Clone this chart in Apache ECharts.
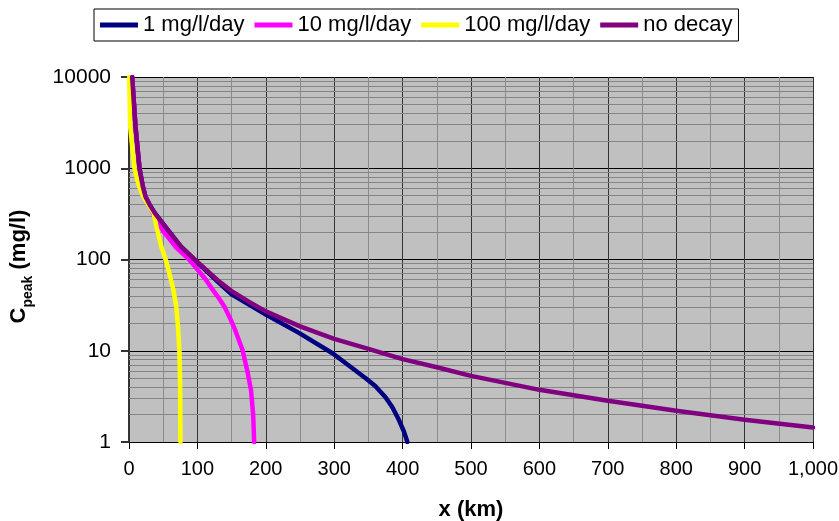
<!DOCTYPE html>
<html>
<head>
<meta charset="utf-8">
<script src="https://cdn.jsdelivr.net/npm/echarts@6/dist/echarts.min.js"></script>
<style>
  html, body { margin: 0; padding: 0; background: #fff; }
  #chart { width: 839px; height: 521px; }
</style>
</head>
<body>
<div id="chart"></div>
<script>
const FONT = '"Liberation Sans", Arial, sans-serif'

const seriesNames = ['1 mg/l/day', '10 mg/l/day', '100 mg/l/day', 'no decay']
const seriesColors = ['#000080', '#ff00ff', '#ffff00', '#800080']

// x (km) / Cpeak (mg/l)
const decay1X = [4.6, 9.5, 15.3, 20, 24, 30, 38, 57, 76, 96, 130, 150, 200, 249, 297.5, 346, 360, 375, 385, 394.5, 402, 407]
const decay1Y = [10000, 2840, 1000, 640, 490, 400, 320, 210, 138, 99, 57, 41.5, 25, 15.6, 9.4, 5.0, 4.1, 3.1, 2.4, 1.75, 1.3, 1]

const decay10X = [4.6, 9.5, 15.3, 20, 24, 30, 35, 49, 68, 88, 112.7, 122, 130, 139.4, 148, 155, 166, 173, 178.4, 181.5, 183]
const decay10Y = [10000, 2840, 1000, 640, 490, 390, 320, 210, 138, 100, 59.7, 47, 39, 30.5, 22.5, 17, 10.2, 6, 3.7, 2, 1]

const decay100X = [0.3, 1.7, 8, 13, 19, 24, 29, 36, 41, 47, 54, 60, 65, 69, 71.5, 73.7, 74.7, 75.2]
const decay100Y = [10000, 2840, 1000, 700, 520, 450, 390, 320, 215, 140, 98, 66, 46, 31, 19, 10, 4.5, 1]

const noDecayX = [4.6, 9.5, 15.3, 20, 24, 30, 38, 57, 76, 96, 130, 150, 175, 200, 250, 300, 350, 400, 450, 500, 600, 700, 800, 900, 1000]
const noDecayY = [10000, 2840, 1000, 640, 490, 400, 320, 210, 138, 100, 59, 45, 34.5, 27, 18.5, 13.5, 10.5, 8.1, 6.6, 5.3, 3.73, 2.83, 2.2, 1.75, 1.44]

// minor log gridlines (2..9 in each decade)
const decades = [1, 10, 100, 1000]
const minorSteps = [2, 3, 4, 5, 6, 7, 8, 9]

const xs = [decay1X, decay10X, decay100X, noDecayX]
const ys = [decay1Y, decay10Y, decay100Y, noDecayY]

const pairs = (x, y) => x.map((v, i) => [v, y[i]])

const minorLines = []
decades.forEach(d => minorSteps.forEach(m => minorLines.push({ yAxis: d * m })))

const chart = echarts.init(document.getElementById('chart'))

const curveSeries = seriesNames.map((name, i) => ({
  name: name,
  type: 'line',
  data: pairs(xs[i], ys[i]),
  color: seriesColors[i],
  showSymbol: false,
  symbol: 'none',
  smooth: false,
  lineStyle: { width: 4.5, color: seriesColors[i], join: 'round', cap: 'round' },
  z: 3
}))

chart.setOption({
  animation: false,
  textStyle: { fontFamily: FONT },
  grid: {
    left: 129,
    right: 26,
    top: 77,
    bottom: 79,
    outerBoundsMode: 'none',
    containLabel: false,
    show: true,
    backgroundColor: '#c0c0c0',
    borderWidth: 0
  },
  legend: {
    data: seriesNames.map(n => ({ name: n, icon: 'rect' })),
    left: 94,
    top: 9,
    padding: [5, 6],
    itemWidth: 38,
    itemHeight: 5,
    itemGap: 10,
    borderColor: '#000',
    borderWidth: 1,
    backgroundColor: '#fff',
    textStyle: { fontSize: 22, color: '#000', fontFamily: FONT }
  },
  xAxis: {
    type: 'value',
    min: 0,
    max: 1000,
    interval: 100,
    name: 'x (km)',
    nameLocation: 'middle',
    nameGap: 57,
    nameTextStyle: { fontSize: 22, fontWeight: 'bold', color: '#000', fontFamily: FONT },
    axisLine: { lineStyle: { color: '#000', width: 1 } },
    axisTick: { length: 7, lineStyle: { color: '#000' } },
    axisLabel: {
      fontSize: 20,
      color: '#000',
      margin: 17,
      formatter: v => v.toLocaleString('en-US')
    },
    splitLine: { show: true, lineStyle: { color: '#333', width: 1 } },
    minorTick: { show: false, splitNumber: 2 },
    minorSplitLine: { show: true, lineStyle: { color: '#8c8c8c', width: 1 } }
  },
  yAxis: {
    type: 'log',
    logBase: 10,
    min: 1,
    max: 10000,
    name: '{a|C}{b|peak}{a| (mg/l)}',
    nameLocation: 'middle',
    nameRotate: 90,
    nameGap: 94,
    nameTextStyle: {
      color: '#000',
      padding: [0, 0, 0, -14],
      rich: {
        a: { fontSize: 22, fontWeight: 'bold', fontFamily: FONT, color: '#000', verticalAlign: 'bottom', padding: [0, 0, 5, 0] },
        b: { fontSize: 14, fontWeight: 'bold', fontFamily: FONT, color: '#000', verticalAlign: 'bottom' }
      }
    },
    axisLine: { show: true, lineStyle: { color: '#333', width: 2 } },
    axisTick: { show: true, length: 8, lineStyle: { color: '#333', width: 2 } },
    axisLabel: { fontSize: 21, color: '#000', margin: 18, formatter: v => String(v) },
    splitLine: { show: true, lineStyle: { color: '#000', width: 1 } }
  },
  series: [
    {
      name: 'grid-minor',
      type: 'line',
      data: [],
      silent: true,
      z: 1,
      markLine: {
        silent: true,
        z: 1,
        symbol: ['none', 'none'],
        label: { show: false },
        lineStyle: { color: '#858585', width: 1, type: 'solid' },
        data: minorLines
      }
    }
  ].concat(curveSeries)
})
</script>
</body>
</html>
